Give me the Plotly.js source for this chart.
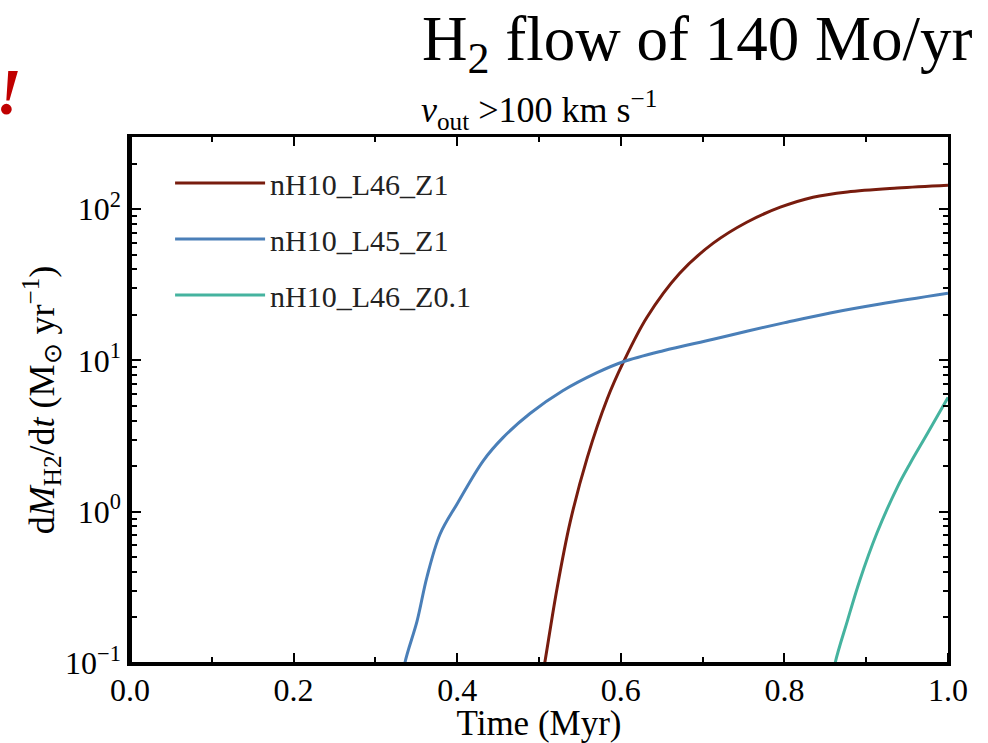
<!DOCTYPE html>
<html>
<head>
<meta charset="utf-8">
<script src="https://cdn.plot.ly/plotly-3.0.1.min.js"></script>
<style>html,body{margin:0;padding:0;background:#fff;}#chart{width:988px;height:743px;}</style>
</head>
<body>
<div id="chart"></div>
<script>
// Series data (Time in Myr, dM/dt in Msun/yr)
const seriesNames = ["nH10_L46_Z1", "nH10_L45_Z1", "nH10_L46_Z0.1"];

const redX  = [0.500, 0.507, 0.522, 0.538, 0.559, 0.583, 0.603, 0.632, 0.672, 0.713, 0.754, 0.795, 0.835, 0.877, 0.938, 1.000];
const redY  = [0.06, 0.10, 0.31, 0.85, 2.28, 5.5, 9.7, 19.3, 37.7, 59.6, 82, 103, 120, 130, 138, 144];

const blueX = [0.330, 0.336, 0.351, 0.363, 0.379, 0.400, 0.432, 0.456, 0.489, 0.529, 0.571, 0.603, 0.652, 0.713, 0.754, 0.803, 0.856, 0.917, 1.000];
const blueY = [0.06, 0.10, 0.19, 0.37, 0.71, 1.13, 2.18, 3.09, 4.46, 6.3, 8.3, 9.8, 11.6, 13.8, 15.6, 17.9, 20.6, 23.6, 27.8];

const tealX = [0.855, 0.862, 0.877, 0.892, 0.913, 0.938, 0.954, 0.975, 1.000];
const tealY = [0.06, 0.10, 0.19, 0.35, 0.72, 1.45, 2.1, 3.3, 5.7];

const xTickVals = [0.0, 0.2, 0.4, 0.6, 0.8, 1.0];
const xTickText = ["0.0", "0.2", "0.4", "0.6", "0.8", "1.0"];
const yTickVals = [0.1, 1, 10, 100];
const yTickText = ["10<sup>−1</sup>", "10<sup>0</sup>", "10<sup>1</sup>", "10<sup>2</sup>"];

const mainTitle = "H<sub>2</sub> flow of 140 Mo/yr";
const subTitle = "<i>v</i><sub>out</sub> >100 km s<sup>−1</sup>";
const xTitle = "Time (Myr)";
const yTitle = "d<i>M</i><sub>H2</sub>/d<i>t</i> (M<sub>⊙</sub> yr<sup>−1</sup>)";

const colors = ["#781c0e", "#4a7fb8", "#45b39f"];

const X_RANGE = [0, 1];
const Y_RANGE = [-1, 2.477];

const minorY = [];
for (let k = -1; k <= 2; k++) {
  for (let m = 2; m <= 9; m++) {
    const v = m * Math.pow(10, k);
    if (v < 300) minorY.push(v);
  }
}

const FONT = "Liberation Serif, Times New Roman, serif";

const xs = [redX, blueX, tealX];
const ys = [redY, blueY, tealY];
const traces = seriesNames.map((n, i) => ({
  x: xs[i], y: ys[i], name: n, type: "scatter", mode: "lines",
  legendgroup: "g" + i,
  line: {color: colors[i], width: 3, shape: "spline", smoothing: 1}
}));
// empty helper trace so the frame axes that carry the inward ticks on the bottom and left sides are drawn
traces.push({x: [], y: [], xaxis: "x3", yaxis: "y3", type: "scatter", mode: "lines",
  showlegend: false, hoverinfo: "skip"});

const baseAxis = {
  showline: true, linecolor: "#000", linewidth: 2.5,
  ticklen: 9, tickwidth: 2, tickcolor: "#000",
  showgrid: false, zeroline: false,
  tickfont: {family: FONT, size: 32, color: "#000"}
};
const minorStyle = {ticklen: 5, tickwidth: 1.5, tickcolor: "#000"};

const layout = {
  width: 988, height: 743,
  margin: {l: 130, r: 40, t: 137, b: 80},
  paper_bgcolor: "#fff", plot_bgcolor: "#fff",
  showlegend: true,
  legend: {
    x: 0.049, y: 0.962, xanchor: "left", yanchor: "top",
    bgcolor: "rgba(0,0,0,0)", borderwidth: 0,
    font: {family: FONT, size: 30, color: "#222"},
    tracegroupgap: 14, itemwidth: 90
  },
  xaxis: Object.assign({}, baseAxis, {
    mirror: "ticks", ticks: "inside", ticklabelstandoff: -3,
    range: X_RANGE, tickmode: "array", tickvals: xTickVals, ticktext: xTickText,
    minor: Object.assign({dtick: 0.1, ticks: "inside"}, minorStyle),
    title: {text: xTitle, font: {family: FONT, size: 35, color: "#000"}, standoff: 0}
  }),
  yaxis: Object.assign({}, baseAxis, {
    mirror: "ticks", ticks: "inside",
    type: "log", range: Y_RANGE, tickmode: "array", tickvals: yTickVals, ticktext: yTickText,
    minor: Object.assign({tickmode: "array", tickvals: minorY, ticks: "inside"}, minorStyle),
    title: {text: yTitle, font: {family: FONT, size: 36, color: "#000"}, standoff: 0}
  }),
  // frame axes sitting on the bottom and left edges, ticks pointing into the plot
  xaxis3: Object.assign({}, baseAxis, {
    overlaying: "x", side: "top", anchor: "free", position: 0, ticks: "outside",
    range: X_RANGE, tickmode: "array", tickvals: xTickVals, showticklabels: false,
    minor: Object.assign({dtick: 0.1, ticks: "outside"}, minorStyle)
  }),
  yaxis3: Object.assign({}, baseAxis, {
    overlaying: "y", side: "right", anchor: "free", position: 0, ticks: "outside",
    type: "log", range: Y_RANGE, tickmode: "array", tickvals: yTickVals, showticklabels: false,
    minor: Object.assign({tickmode: "array", tickvals: minorY, ticks: "outside"}, minorStyle)
  }),
  annotations: [
    {text: mainTitle, xref: "paper", yref: "paper", x: 1.033, y: 1.178, xanchor: "right", yanchor: "middle",
     showarrow: false, font: {family: FONT, size: 63, color: "#000"}},
    {text: subTitle, xref: "paper", yref: "paper", x: 0.5, y: 1.0, xanchor: "center", yanchor: "bottom",
     showarrow: false, font: {family: FONT, size: 36, color: "#000"}},
    {text: "<b><i>!</i></b>", xref: "paper", yref: "paper", x: -0.166, y: 1.086, xanchor: "left", yanchor: "middle",
     showarrow: false, font: {family: FONT, size: 66, color: "#c00000"}}
  ]
};

Plotly.newPlot("chart", traces, layout, {displayModeBar: false});
</script>
</body>
</html>
